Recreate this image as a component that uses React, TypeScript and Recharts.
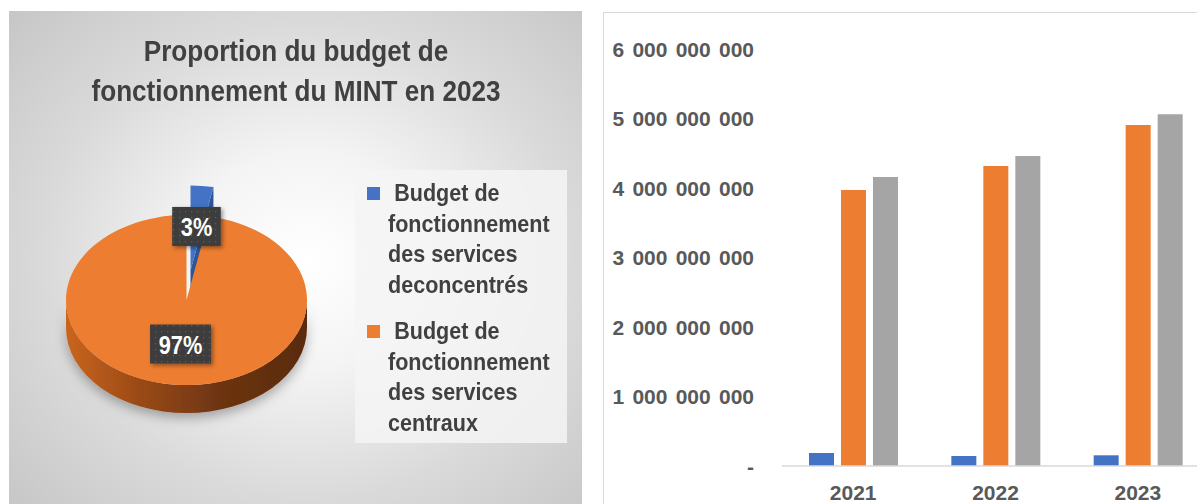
import React from 'react';
import { BarChart, Bar, XAxis, YAxis, PieChart, Pie } from 'recharts';

// ---------- data ----------
const years = ['2021', '2022', '2023'];
const deconcentres = [187000000, 144000000, 154000000];
const centraux = [3970000000, 4315000000, 4906000000];
const totaux = [4157000000, 4459000000, 5060000000];
const yTicks = [0, 1000000000, 2000000000, 3000000000, 4000000000, 5000000000, 6000000000];
const pieNames = [
  'Budget de fonctionnement des services deconcentrés',
  'Budget de fonctionnement des services centraux',
];
const pieTitle = 'Proportion du budget de fonctionnement du MINT en 2023';
const pieYear = '2023';

const barData = years.map((y, i) => ({
  year: y,
  deconcentres: deconcentres[i],
  centraux: centraux[i],
  total: totaux[i],
}));
const pyi = years.indexOf(pieYear);
const pieData = [
  { name: pieNames[0], value: deconcentres[pyi] },
  { name: pieNames[1], value: centraux[pyi] },
];

// ---------- styles ----------
const FONT = '"Liberation Sans", Arial, Helvetica, sans-serif';
const BLUE = '#4472c4';
const ORANGE = '#ed7d31';
const GRAY = '#a5a5a5';
const PIE_TOP = [BLUE, ORANGE];
const PIE_FACE = ['#2f5597', '#b05619'];
const TILT = 0.706;
const DEPTH = 28;
const EXPLODE = 42;
const EXPLODED_INDEX = 0;
const LABEL_T = 0.52;

const rad = (d: number) => (d * Math.PI) / 180;
const proj = (cx: number, cy: number, r: number, deg: number): [number, number] => [
  cx + r * Math.cos(rad(deg)),
  cy - TILT * r * Math.sin(rad(deg)),
];
const explodeOffset = (index: number, mid: number): [number, number] =>
  index === EXPLODED_INDEX ? [EXPLODE * Math.cos(rad(mid)), -TILT * EXPLODE * Math.sin(rad(mid))] : [0, 0];

const fmt = (v: number) => (v === 0 ? '-' : String(v).replace(/\B(?=(\d{3})+(?!\d))/g, ' '));

// 3D sector geometry drawn from the pie's computed angles
function render3D(props: any) {
  const { cx, cy, outerRadius, startAngle, endAngle, index } = props;
  const r = outerRadius;
  const ry = r * TILT;
  const mid = (startAngle + endAngle) / 2;
  const [dx, dy] = explodeOffset(index, mid);
  const ox = cx + dx;
  const oy = cy + dy;
  const hi = Math.max(startAngle, endAngle);
  const lo = Math.min(startAngle, endAngle);
  const P = (deg: number) => proj(ox, oy, r, deg);
  const parts: React.ReactNode[] = [];

  // side walls (front half of the rim)
  for (let n = -2; n <= 1; n++) {
    const a = Math.max(lo, -180 + 360 * n);
    const b = Math.min(hi, 360 * n);
    if (b > a) {
      const pb = P(b);
      const pa = P(a);
      const d = `M${pb[0]},${pb[1]} A${r},${ry} 0 0 1 ${pa[0]},${pa[1]} L${pa[0]},${pa[1] + DEPTH} A${r},${ry} 0 0 0 ${pb[0]},${pb[1] + DEPTH} Z`;
      parts.push(<path key={`w${n}`} d={d} fill={index === 1 ? 'url(#wallGradOrange)' : 'url(#wallGradBlue)'} filter="url(#pieShadow)" />);
    }
  }

  // cut faces of the exploded slice
  if (index === EXPLODED_INDEX) {
    const faces: number[] = [];
    if (Math.sin(rad(lo - 90)) < -0.001) faces.push(lo);
    if (Math.sin(rad(hi + 90)) < -0.001) faces.push(hi);
    faces.forEach((t, k) => {
      const p = P(t);
      const d = `M${ox},${oy} L${p[0]},${p[1]} L${p[0]},${p[1] + DEPTH} L${ox},${oy + DEPTH} Z`;
      parts.push(<path key={`f${k}`} d={d} fill={PIE_FACE[index]} />);
    });
  }

  // top face
  const ps = P(startAngle);
  const pe = P(endAngle);
  const large = Math.abs(startAngle - endAngle) > 180 ? 1 : 0;
  const sweep = startAngle > endAngle ? 1 : 0;
  const top = `M${ox},${oy} L${ps[0]},${ps[1]} A${r},${ry} 0 ${large} ${sweep} ${pe[0]},${pe[1]} Z`;
  parts.push(<path key="top" d={top} fill={PIE_TOP[index]} />);
  return <g key={`s${index}`}>{parts}</g>;
}

function renderBox(props: any) {
  const { cx, cy, outerRadius, startAngle, endAngle, index, percent } = props;
  const mid = (startAngle + endAngle) / 2;
  const [dx, dy] = explodeOffset(index, mid);
  const [x, y] = proj(cx + dx, cy + dy, outerRadius * LABEL_T, mid);
  const txt = `${Math.round(percent * 100)}%`;
  const w = 24 + 12.3 * txt.length;
  const h = 39;
  return (
    <g key={`b${index}`}>
      <rect x={x - w / 2} y={y - h / 2} width={w} height={h} fill="url(#dots)" filter="url(#boxShadow)" />
      <text
        transform={`translate(${x},${y + 9.5}) scale(0.87,1)`}
        textAnchor="middle"
        fontFamily={FONT}
        fontSize={25}
        fontWeight={700}
        fill="#ffffff"
      >
        {txt}
      </text>
    </g>
  );
}

const YTick = (props: any) => {
  const { x, y, payload } = props;
  return (
    <text
      x={x}
      y={y}
      dy={7.5}
      textAnchor="end"
      fontFamily={FONT}
      fontSize={21}
      fontWeight={700}
      fill="#595959"
      style={{ wordSpacing: '2.4px' }}
    >
      {fmt(payload.value)}
    </text>
  );
};

const XTick = (props: any) => {
  const { x, y, payload } = props;
  return (
    <text x={x} y={y + 33.5} textAnchor="middle" fontFamily={FONT} fontSize={21} fontWeight={700} fill="#595959">
      {payload.value}
    </text>
  );
};

function Defs() {
  return (
    <svg width={0} height={0} style={{ position: 'absolute', left: 0, top: 0 }}>
      <defs>
        <linearGradient id="wallGradOrange" x1="0" y1="0" x2="1" y2="0">
          <stop offset="0%" stopColor="#c9651f" />
          <stop offset="30%" stopColor="#9b4a16" />
          <stop offset="65%" stopColor="#6c3411" />
          <stop offset="100%" stopColor="#5a2b0d" />
        </linearGradient>
        <linearGradient id="wallGradBlue" x1="0" y1="0" x2="1" y2="0">
          <stop offset="0%" stopColor="#3a62a8" />
          <stop offset="100%" stopColor="#23406f" />
        </linearGradient>
        <pattern id="dots" x="0" y="0" width="6" height="6" patternUnits="userSpaceOnUse">
          <rect x="0" y="0" width="6" height="6" fill="#3d3d3d" />
          <rect x="2" y="2" width="1.2" height="1.2" fill="#5e5e5e" />
        </pattern>
        <filter id="pieShadow" x="-20%" y="-40%" width="140%" height="200%">
          <feDropShadow dx="0" dy="5" stdDeviation="6" floodColor="#000" floodOpacity="0.3" />
        </filter>
        <filter id="boxShadow" x="-30%" y="-30%" width="160%" height="160%">
          <feDropShadow dx="2" dy="2" stdDeviation="2" floodColor="#000" floodOpacity="0.4" />
        </filter>
      </defs>
    </svg>
  );
}

function PieLegend() {
  return (
    <div
      style={{
        position: 'absolute',
        left: 355,
        top: 170,
        width: 212,
        height: 273,
        background: 'rgba(244,244,244,0.85)',
        paddingTop: 8,
        boxSizing: 'border-box',
      }}
    >
      {pieNames.map((n, i) => (
        <div key={n} style={{ position: 'relative', marginBottom: 16.3 }}>
          <div
            style={{
              position: 'absolute',
              left: 12,
              top: 9,
              width: 13,
              height: 13,
              background: PIE_TOP[i],
            }}
          />
          <div
            style={{
              marginLeft: 33,
              width: 203,
              fontFamily: FONT,
              fontSize: 24.5,
              fontWeight: 700,
              lineHeight: '30.5px',
              color: '#404040',
              textIndent: 7,
              transform: 'scaleX(0.88)',
              transformOrigin: 'left top',
            }}
          >
            {n}
          </div>
        </div>
      ))}
    </div>
  );
}

export default function App() {
  return (
    <div
      style={{
        position: 'absolute',
        left: 0,
        top: 0,
        width: 1197,
        height: 504,
        overflow: 'hidden',
        background: '#ffffff',
      }}
    >
      <Defs />
      {/* left panel */}
      <div
        style={{
          position: 'absolute',
          left: 9,
          top: 11,
          width: 573,
          height: 520,
          background:
            'radial-gradient(ellipse farthest-corner at 52% 48%, #ffffff 0%, #f4f4f4 28%, #dadada 62%, #c4c4c4 100%)',
        }}
      />
      <div
        style={{
          position: 'absolute',
          left: 45.5,
          top: 31,
          width: 500,
          textAlign: 'center',
          fontFamily: FONT,
          fontSize: 30,
          fontWeight: 700,
          lineHeight: '40px',
          color: '#404040',
          transform: 'scaleX(0.87)',
          transformOrigin: 'center top',
        }}
      >
        {pieTitle}
      </div>
      <div style={{ position: 'absolute', left: 9, top: 11 }}>
        <PieChart width={573} height={493} margin={{ top: 0, right: 0, bottom: 0, left: 0 }}>
          <Pie
            data={pieData}
            dataKey="value"
            nameKey="name"
            cx={177.5}
            cy={289}
            outerRadius={120.5}
            startAngle={90}
            endAngle={-270}
            fill="none"
            stroke="none"
            labelLine={false}
            label={render3D}
            legendType="none"
            isAnimationActive={false}
          />
          <Pie
            data={pieData}
            dataKey="value"
            nameKey="name"
            cx={177.5}
            cy={289}
            outerRadius={120.5}
            startAngle={90}
            endAngle={-270}
            fill="none"
            stroke="none"
            labelLine={false}
            label={renderBox}
            legendType="none"
            isAnimationActive={false}
          />
        </PieChart>
      </div>
      <PieLegend />

      {/* right panel */}
      <div
        style={{
          position: 'absolute',
          left: 603,
          top: 12,
          width: 640,
          height: 540,
          border: '1px solid #d9d9d9',
          background: '#ffffff',
        }}
      />
      <div style={{ position: 'absolute', left: 603, top: 12 }}>
        <BarChart
          width={606}
          height={504}
          data={barData}
          margin={{ top: 37, right: 0, bottom: 0, left: 0 }}
          barGap={7}
          barSize={25}
        >
          <XAxis
            dataKey="year"
            height={50}
            tickLine={false}
            tickSize={0}
            tickMargin={0}
            axisLine={{ stroke: '#d9d9d9', strokeWidth: 1.5 }}
            tick={<XTick />}
            interval={0}
          />
          <YAxis
            width={179}
            domain={[0, 6000000000]}
            ticks={yTicks}
            axisLine={false}
            tickLine={false}
            tickSize={0}
            tickMargin={28}
            tick={<YTick />}
            interval={0}
          />
          <Bar dataKey="deconcentres" fill={BLUE} isAnimationActive={false} />
          <Bar dataKey="centraux" fill={ORANGE} isAnimationActive={false} />
          <Bar dataKey="total" fill={GRAY} isAnimationActive={false} />
        </BarChart>
      </div>
    </div>
  );
}
